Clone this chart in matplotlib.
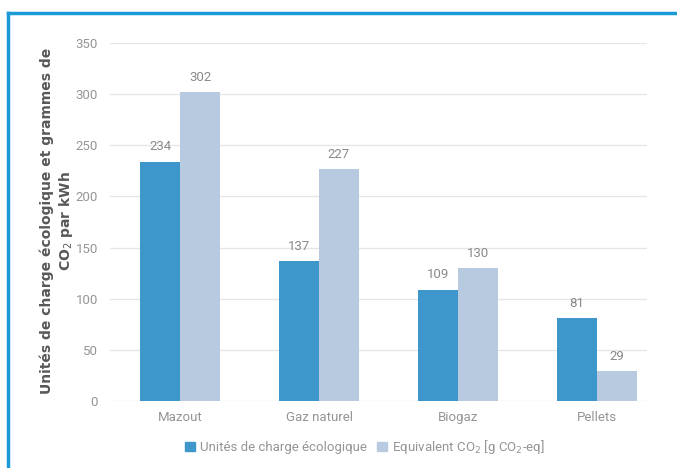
import numpy as np
import matplotlib.pyplot as plt
from matplotlib.lines import Line2D
from matplotlib.patches import Patch

categories = ['Mazout', 'Gaz naturel', 'Biogaz', 'Pellets']
charge_units = [234, 137, 109, 81]
co2_eq = [302, 227, 130, 29]
y_ticks = [0, 50, 100, 150, 200, 250, 300, 350]

BLUE = '#3d97cb'
LIGHT = '#b8cae0'
GRAY = '#959595'

plt.rcParams['font.family'] = ['Roboto', 'DejaVu Sans']

fig = plt.figure(figsize=(6.77, 4.68), dpi=100)
W, H = 677, 468
ax = fig.add_axes([110 / W, 1 - 401 / H, (647 - 110) / W, (401 - 43) / H])

x = np.arange(len(categories))
w = 0.288
b1 = ax.bar(x - w / 2, charge_units, w, color=BLUE)
b2 = ax.bar(x + w / 2, co2_eq, w, color=LIGHT)

for bars, vals in ((b1, charge_units), (b2, co2_eq)):
    for r, v in zip(bars, vals):
        ax.text(r.get_x() + r.get_width() / 2, v + 8, str(v), ha='center',
                va='bottom', fontsize=9.5, color='#8a8a8a')

ax.set_xlim(-0.504, 3.36)
ax.set_ylim(0, 350)
ax.set_yticks(y_ticks)
ax.set_xticks(x)
ax.set_xticklabels(categories)
ax.yaxis.grid(True, color='#e6e6e6', linewidth=1)
ax.set_axisbelow(True)
for s in ax.spines.values():
    s.set_visible(False)
ax.tick_params(length=0, colors=GRAY, labelsize=9.5)
ax.tick_params(axis='y', pad=8.5)
ax.tick_params(axis='x', pad=7)

fig.text(57 / W, 1 - 221 / H, 'Unités de charge écologique et grammes de\nCO$_2$ par kWh',
         rotation=90, ha='center', va='center', fontsize=10, fontweight='bold',
         family='DejaVu Sans', color='#585858', multialignment='center', linespacing=1.2)

handles = [Patch(color=BLUE), Patch(color=LIGHT)]
fig.legend(handles, ['Unités de charge écologique', 'Equivalent CO$_2$ [g CO$_2$-eq]'],
           loc='center', bbox_to_anchor=(365 / W, 1 - 447 / H), ncol=2, frameon=False,
           handlelength=0.7, handleheight=0.7, handletextpad=0.4, columnspacing=0.8,
           fontsize=9.5, labelcolor=GRAY)

fig.add_artist(Line2D([8 / W, 1], [1 - 13 / H, 1 - 13 / H], color='#1a9ad6', linewidth=2.5))
fig.add_artist(Line2D([8 / W, 8 / W], [0, 1 - 13 / H], color='#1a9ad6', linewidth=2.5))

fig.savefig('out.png', dpi=100)
